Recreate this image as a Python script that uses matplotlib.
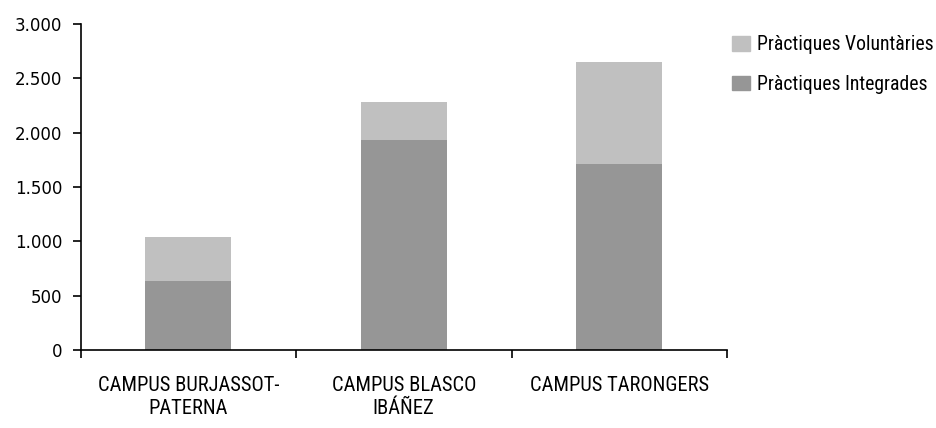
import matplotlib
matplotlib.use("Agg")
import matplotlib.pyplot as plt
from matplotlib import font_manager
from matplotlib.ticker import FuncFormatter
from matplotlib.patches import Patch

categories = ["CAMPUS BURJASSOT-\nPATERNA", "CAMPUS BLASCO\nIBÁÑEZ", "CAMPUS TARONGERS"]
integrades = [635, 1932, 1712]
voluntaries = [405, 350, 938]
series_names = ["Pràctiques Integrades", "Pràctiques Voluntàries"]
yticks = [0, 500, 1000, 1500, 2000, 2500, 3000]

avail = {f.name for f in font_manager.fontManager.ttflist}
fam = "DejaVu Sans"
for cand in ["Roboto Condensed", "Liberation Sans Narrow", "DejaVu Sans Condensed", "Noto Sans"]:
    if cand in avail:
        fam = cand
        break
plt.rcParams['font.family'] = [fam, 'DejaVu Sans']

fig = plt.figure(figsize=(9.36, 4.28), dpi=100)
ax = fig.add_axes([80.5/936, 1-350/428, (727-80.5)/936, (350-24)/428])

x = list(range(len(categories)))
c_int = "#969696"
c_vol = "#C0C0C0"
ax.bar(x, integrades, width=0.4, color=c_int, zorder=2)
ax.bar(x, voluntaries, width=0.4, bottom=integrades, color=c_vol, zorder=2)

ax.set_xlim(-0.5, len(categories)-0.5)
ax.set_ylim(0, 3000)
ax.set_yticks(yticks)
ax.yaxis.set_major_formatter(FuncFormatter(lambda v, p: f"{int(v):,}".replace(",", ".")))
ax.set_xticks(x)
ax.set_xticklabels(categories, fontsize=14.8, linespacing=1.25)
ax.set_xticks([i - 0.5 for i in range(len(categories)+1)], minor=True)
ax.tick_params(axis='x', which='major', length=0, pad=19)
ax.tick_params(axis='x', which='minor', length=6, width=1.2, direction='out')
ax.tick_params(axis='y', length=6, width=1.2, direction='out', pad=7)
for lab in ax.get_yticklabels():
    lab.set_fontfamily(['DejaVu Sans'])
    lab.set_fontsize(12)

for s in ['top', 'right']:
    ax.spines[s].set_visible(False)
for s in ['left', 'bottom']:
    ax.spines[s].set_linewidth(1.2)
    ax.spines[s].set_color('black')

handles = [Patch(color=c_vol), Patch(color=c_int)]
fig.legend(handles, [series_names[1], series_names[0]], loc='upper left',
           bbox_to_anchor=(732/936, 1-35/428), frameon=False, fontsize=14.2,
           handlelength=0.9, handleheight=0.78, handletextpad=0.36, labelspacing=1.06,
           borderaxespad=0, borderpad=0)

fig.savefig("out.png", dpi=100)
